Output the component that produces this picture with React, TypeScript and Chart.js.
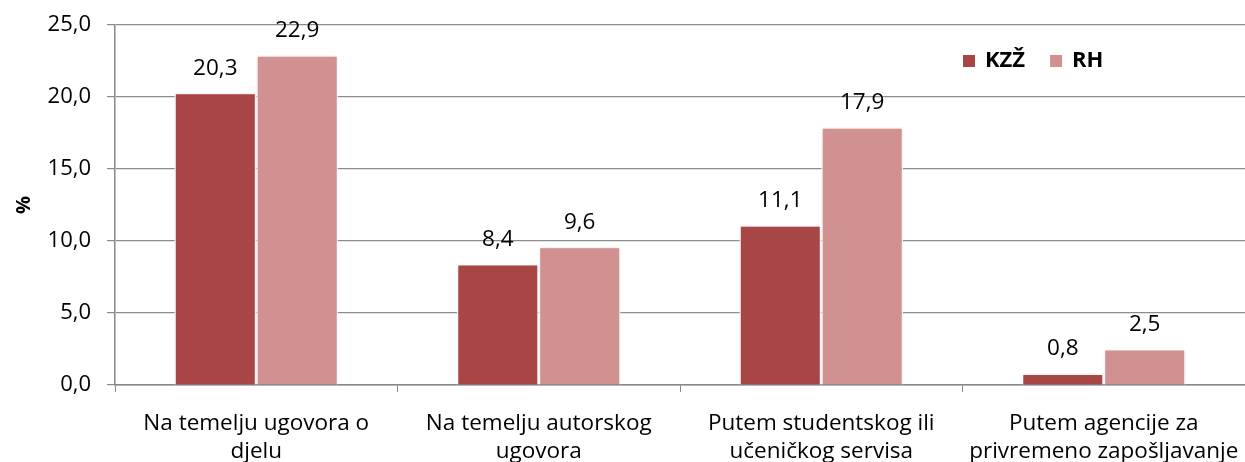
import React, { useEffect, useRef } from "react";
import { Chart, registerables } from "chart.js";

Chart.register(...registerables);

const categories: string[][] = [
  ["Na temelju ugovora o", "djelu"],
  ["Na temelju autorskog", "ugovora"],
  ["Putem studentskog ili", "učeničkog servisa"],
  ["Putem agencije za", "privremeno zapošljavanje"],
];
const seriesNames = ["KZŽ", "RH"];
const kzzValues = [20.3, 8.4, 11.1, 0.8];
const rhValues = [22.9, 9.6, 17.9, 2.5];
const colors = ["#A84646", "#D29191"];
const FONT = "'Open Sans', 'Noto Sans', sans-serif";

const fmt = (v: number) => v.toFixed(1).replace(".", ",");

const labelPlugin = {
  id: "valueLabels",
  afterDatasetsDraw(chart: any) {
    const ctx = chart.ctx;
    ctx.save();
    ctx.font = `22.5px ${FONT}`;
    ctx.fillStyle = "#000";
    ctx.textAlign = "center";
    ctx.textBaseline = "alphabetic";
    chart.data.datasets.forEach((ds: any, i: number) => {
      const meta = chart.getDatasetMeta(i);
      meta.data.forEach((bar: any, j: number) => {
        ctx.fillText(fmt(ds.data[j]), bar.x, bar.y - 18);
      });
    });
    ctx.restore();
  },
};

const shadowPlugin = {
  id: "barShadow",
  beforeDatasetsDraw(chart: any) {
    const ctx = chart.ctx;
    ctx.save();
    ctx.shadowColor = "rgba(0,0,0,0.18)";
    ctx.shadowBlur = 3;
    ctx.shadowOffsetX = 0;
    ctx.shadowOffsetY = 0;
  },
  afterDatasetsDraw(chart: any) {
    chart.ctx.restore();
  },
};

const legendPlugin = {
  id: "customLegend",
  afterDraw(chart: any) {
    const ctx = chart.ctx;
    ctx.save();
    ctx.font = `bold 22px ${FONT}`;
    ctx.textBaseline = "middle";
    ctx.textAlign = "left";
    let x = 963;
    const y = 61;
    seriesNames.forEach((name, i) => {
      ctx.fillStyle = colors[i];
      ctx.fillRect(x, y - 6, 12, 12);
      ctx.fillStyle = "#000";
      ctx.fillText(name, x + 22, y);
      x += 22 + ctx.measureText(name).width + 25;
    });
    ctx.restore();
  },
};

export default function App() {
  const ref = useRef<HTMLCanvasElement>(null);
  useEffect(() => {
    document.body.style.margin = "0";
    const chart = new Chart(ref.current!, {
      type: "bar",
      data: {
        labels: categories,
        datasets: [
          {
            label: seriesNames[0],
            data: kzzValues,
            backgroundColor: colors[0],
            borderColor: "#ffffff",
            borderWidth: 1.5,
            categoryPercentage: 0.58,
            barPercentage: 1,
          },
          {
            label: seriesNames[1],
            data: rhValues,
            backgroundColor: colors[1],
            borderColor: "#ffffff",
            borderWidth: 1.5,
            categoryPercentage: 0.58,
            barPercentage: 1,
          },
        ],
      },
      options: {
        animation: false,
        responsive: false,
        maintainAspectRatio: false,
        layout: { padding: { top: 25, right: 0, left: 0, bottom: 0 } },
        plugins: { legend: { display: false }, tooltip: { enabled: false } },
        scales: {
          x: {
            grid: {
              offset: true,
              drawOnChartArea: false,
              drawTicks: true,
              tickLength: 7,
              color: "#888888",
            },
            border: { color: "#888888", width: 1.5 },
            ticks: {
              color: "#000",
              font: { family: FONT, size: 22.5, lineHeight: "28px" },
              maxRotation: 0,
              autoSkip: false,
              padding: 18,
            },
            afterFit(scale: any) {
              scale.height = 90;
              scale.paddingLeft = 0;
              scale.paddingRight = 0;
            },
          },
          y: {
            min: 0,
            max: 25,
            ticks: {
              stepSize: 5,
              color: "#000",
              font: { family: FONT, size: 22 },
              padding: 16,
              callback: (v: any) => fmt(Number(v)),
            },
            grid: { color: "#8c8c8c", lineWidth: 1.2, tickLength: 8 },
            border: { color: "#888888", width: 1.5 },
            title: {
              display: true,
              text: "%",
              color: "#000",
              font: { family: FONT, size: 20, weight: "bold" },
              padding: { top: 12, bottom: 0 },
            },
            afterFit(scale: any) {
              scale.width = 115;
              scale.paddingTop = 0;
              scale.paddingBottom = 0;
            },
          },
        },
      },
      plugins: [shadowPlugin, labelPlugin, legendPlugin],
    });
    return () => chart.destroy();
  }, []);
  return (
    <div style={{ position: "absolute", left: 0, top: 0, width: 1245, height: 462, overflow: "hidden", background: "#fff" }}>
      <canvas ref={ref} width={1245} height={475} style={{ display: "block" }} />
    </div>
  );
}
